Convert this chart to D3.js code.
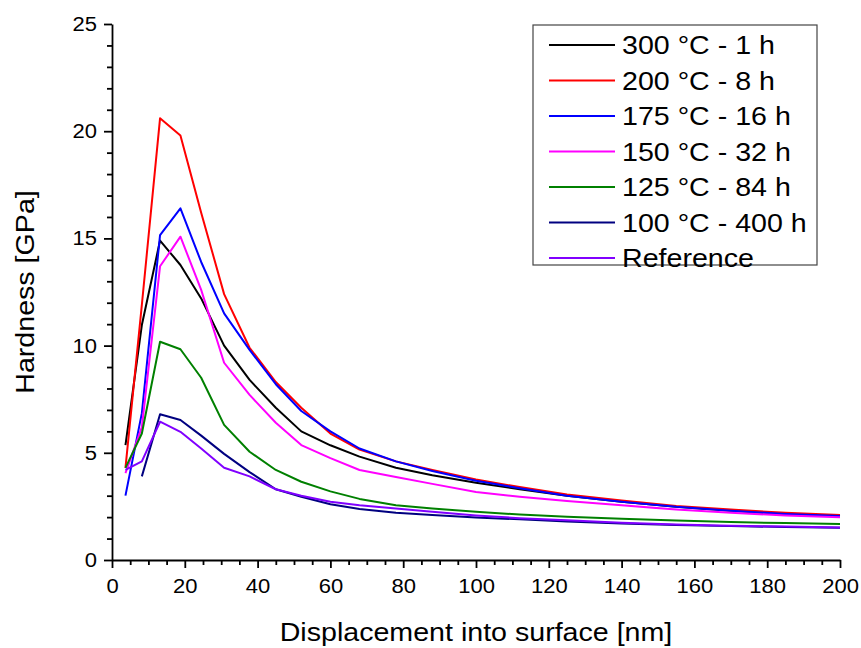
<!DOCTYPE html>
<html>
<head>
<meta charset="utf-8">
<script src="https://cdn.jsdelivr.net/npm/d3@7"></script>
<style>
  body { margin: 0; background: #fff; }
  svg text { font-family: "Liberation Sans", Arial, sans-serif; fill: #000; }
  .axis line, .axis path, .minor line { stroke: #000; stroke-width: 1.8px; }
</style>
</head>
<body>
<svg id="chart" width="861" height="648"></svg>
<script>
// Displacement into surface [nm]
var depth = [3.7, 8.2, 13.2, 18.8, 24.5, 30.8, 37.8, 45, 52, 60, 68, 78, 88, 100, 112, 125, 140, 155, 170, 185, 200];

// Hardness [GPa] per heat treatment
var h300 = [5.36, 10.96, 14.9, 13.76, 12.2, 10.0, 8.4, 7.1, 6.0, 5.35, 4.82, 4.3, 3.95, 3.6, 3.3, 3.0, 2.72, 2.48, 2.3, 2.15, 2.05];
var h200 = [4.3, 11.9, 20.6, 19.8, 16.2, 12.4, 9.9, 8.3, 7.1, 5.9, 5.15, 4.6, 4.2, 3.75, 3.4, 3.05, 2.78, 2.52, 2.35, 2.2, 2.1];
var h175 = [3.0, 6.85, 15.15, 16.4, 13.9, 11.5, 9.8, 8.2, 6.95, 6.0, 5.2, 4.6, 4.15, 3.7, 3.35, 3.0, 2.72, 2.48, 2.3, 2.15, 2.05];
var h150 = [4.05, 6.2, 13.7, 15.08, 12.6, 9.2, 7.7, 6.4, 5.36, 4.75, 4.2, 3.87, 3.55, 3.17, 2.95, 2.75, 2.55, 2.35, 2.2, 2.08, 1.99];
var h125 = [4.3, 5.9, 10.18, 9.83, 8.5, 6.3, 5.05, 4.2, 3.65, 3.2, 2.85, 2.55, 2.4, 2.25, 2.12, 2.02, 1.92, 1.84, 1.77, 1.72, 1.68];
var h100 = [null, 3.9, 6.8, 6.53, 5.8, 4.95, 4.1, 3.3, 2.95, 2.6, 2.38, 2.2, 2.1, 1.98, 1.9, 1.8, 1.7, 1.63, 1.58, 1.54, 1.5];
var hRef = [4.2, 4.6, 6.45, 5.98, 5.2, 4.3, 3.9, 3.3, 3.0, 2.72, 2.55, 2.4, 2.25, 2.08, 1.95, 1.85, 1.74, 1.66, 1.6, 1.56, 1.52];

var seriesNames = ["300 \u00B0C - 1 h", "200 \u00B0C - 8 h", "175 \u00B0C - 16 h", "150 \u00B0C - 32 h",
                   "125 \u00B0C - 84 h", "100 \u00B0C - 400 h", "Reference"];
var seriesValues = [h300, h200, h175, h150, h125, h100, hRef];
var seriesColors = ["#000000", "#ff0000", "#0000ff", "#ff00ff", "#008000", "#000080", "#8000ff"];

var xTicks = [0, 20, 40, 60, 80, 100, 120, 140, 160, 180, 200];
var yTicks = [0, 5, 10, 15, 20, 25];
var xMinorTicks = [5, 10, 15, 25, 30, 35, 45, 50, 55, 65, 70, 75, 85, 90, 95, 105, 110, 115,
                   125, 130, 135, 145, 150, 155, 165, 170, 175, 185, 190, 195];
var yMinorTicks = [1, 2, 3, 4, 6, 7, 8, 9, 11, 12, 13, 14, 16, 17, 18, 19, 21, 22, 23, 24];

var svg = d3.select("#chart"),
    margin = {left: 112, top: 24, right: 21, bottom: 88},
    width = +svg.attr("width") - margin.left - margin.right,
    height = +svg.attr("height") - margin.top - margin.bottom;

var x = d3.scaleLinear().domain([0, 200]).range([0, width]),
    y = d3.scaleLinear().domain([0, 25]).range([height, 0]);

// stretch text a bit horizontally, the original font runs wide
function widen(sel, k) {
  sel.each(function() {
    var w = this.getComputedTextLength();
    d3.select(this).attr("textLength", w * k).attr("lengthAdjust", "spacingAndGlyphs");
  });
}

var g = svg.append("g")
  .attr("transform", "translate(" + margin.left + "," + margin.top + ")");

// minor ticks
g.append("g")
  .attr("class", "minor")
  .attr("transform", "translate(0," + height + ")")
  .call(d3.axisBottom(x).tickValues(xMinorTicks).tickSize(5).tickFormat(function() { return ""; }));
g.append("g")
  .attr("class", "minor")
  .call(d3.axisLeft(y).tickValues(yMinorTicks).tickSize(5).tickFormat(function() { return ""; }));
g.selectAll(".minor .domain").remove();

// x Axis
g.append("g")
  .attr("class", "axis axis--x")
  .attr("transform", "translate(0," + height + ")")
  .call(d3.axisBottom(x).tickValues(xTicks).tickSize(8).tickSizeOuter(0).tickPadding(11));

// y Axis
g.append("g")
  .attr("class", "axis axis--y")
  .call(d3.axisLeft(y).tickValues(yTicks).tickSize(8).tickSizeOuter(0).tickPadding(7));

g.selectAll(".axis text").style("font-size", "20px");
widen(g.selectAll(".axis text"), 1.1);

// Axis titles
svg.append("text")
  .attr("x", margin.left + width / 2)
  .attr("y", 641)
  .style("font-size", "26px")
  .style("text-anchor", "middle")
  .text("Displacement into surface [nm]")
  .call(widen, 1.1);

svg.append("text")
  .attr("transform", "translate(34," + (margin.top + height / 2) + ") rotate(-90)")
  .style("font-size", "26px")
  .style("text-anchor", "middle")
  .text("Hardness [GPa]")
  .call(widen, 1.1);

// Lines
var line = d3.line()
  .defined(function(d) { return d[1] !== null; })
  .x(function(d) { return x(d[0]); })
  .y(function(d) { return y(d[1]); });

seriesValues.forEach(function(vals, i) {
  var pts = depth.map(function(dv, j) { return [dv, vals[j]]; });
  g.append("path")
    .datum(pts)
    .attr("fill", "none")
    .attr("stroke", seriesColors[i])
    .attr("stroke-width", 2)
    .attr("stroke-linejoin", "round")
    .attr("d", line);
});

// Legend
var legend = svg.append("g").attr("transform", "translate(533,25)");
legend.append("rect")
  .attr("width", 284).attr("height", 240)
  .attr("fill", "#fff").attr("stroke", "#444").attr("stroke-width", 1.2);

var rows = legend.selectAll("g.row")
  .data(seriesNames)
  .enter().append("g")
  .attr("class", "row")
  .attr("transform", function(d, i) { return "translate(0," + (20 + i * 35.5) + ")"; });

rows.append("line")
  .attr("x1", 16).attr("x2", 82)
  .attr("stroke", function(d, i) { return seriesColors[i]; })
  .attr("stroke-width", 2);

rows.append("text")
  .attr("x", 89)
  .attr("dy", "0.36em")
  .style("font-size", "26px")
  .text(function(d) { return d; })
  .call(widen, 1.1);
</script>
</body>
</html>
